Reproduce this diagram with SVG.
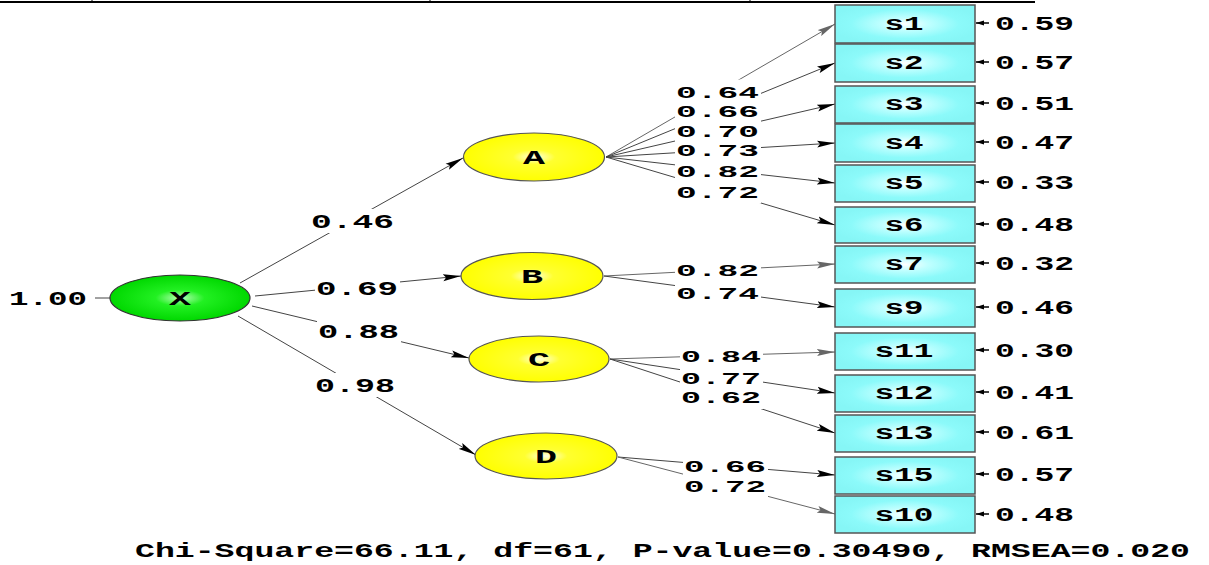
<svg xmlns="http://www.w3.org/2000/svg" width="1209" height="565" viewBox="0 0 1209 565">
<style>
text{font-family:"Liberation Mono","Courier New",monospace;font-weight:bold;font-size:20px;fill:#000}
text.f{font-size:17px}
.ln{stroke:#444;stroke-width:1;fill:none}
.lg{stroke:#666;stroke-width:1;fill:none}
.mask{fill:#fff;stroke:none}
.box{fill:url(#cy);stroke:#555;stroke-width:1.5}
.lat{fill:url(#yl);stroke:#555;stroke-width:1.2}
.err{stroke:#000;stroke-width:1.5}
</style>
<defs>
<radialGradient id="gr" cx="0.5" cy="0.5" r="0.5">
<stop offset="0" stop-color="#b8ffb8"/><stop offset="0.35" stop-color="#22f022"/><stop offset="1" stop-color="#00d800"/>
</radialGradient>
<radialGradient id="yl" cx="0.5" cy="0.5" r="0.5">
<stop offset="0" stop-color="#ffffe8"/><stop offset="0.3" stop-color="#ffff30"/><stop offset="1" stop-color="#ffff00"/>
</radialGradient>
<radialGradient id="cy" cx="0.5" cy="0.5" r="0.55">
<stop offset="0" stop-color="#ffffff"/><stop offset="0.3" stop-color="#c0ffff"/><stop offset="0.7" stop-color="#8cfafa"/><stop offset="1" stop-color="#86f6f6"/>
</radialGradient>
<marker id="ab" markerUnits="userSpaceOnUse" markerWidth="18" markerHeight="8" viewBox="0 -4 18 8" refX="18" refY="0" orient="auto">
<path d="M0,-3.5 L18,0 L0,3.5 L3,0 z" fill="#000"/>
</marker>
<marker id="ag" markerUnits="userSpaceOnUse" markerWidth="18" markerHeight="8" viewBox="0 -4 18 8" refX="18" refY="0" orient="auto">
<path d="M0,-3.5 L18,0 L0,3.5 L3,0 z" fill="#666"/>
</marker>
<marker id="as" markerUnits="userSpaceOnUse" markerWidth="8" markerHeight="6" viewBox="0 -3 8 6" refX="8" refY="0" orient="auto">
<path d="M0,-2.5 L8,0 L0,2.5 z" fill="#000"/>
</marker>
</defs>
<rect width="1209" height="565" fill="#fff"/>
<g id="topline">
<line x1="0" y1="2" x2="1035" y2="2" stroke="#000" stroke-width="1.8"/>
<line x1="92" y1="0" x2="92" y2="3" stroke="#000"/>
<line x1="430" y1="0" x2="430" y2="3" stroke="#000"/>
<line x1="750" y1="0" x2="750" y2="3" stroke="#000"/>
</g>
<g id="connectors">
<line class="ln" x1="95" y1="298" x2="110" y2="298"/>
<line class="ln" x1="240" y1="283" x2="463" y2="158" marker-end="url(#ab)"/>
<line class="ln" x1="255" y1="296" x2="461" y2="276" marker-end="url(#ab)"/>
<line class="ln" x1="252" y1="306" x2="469" y2="358" marker-end="url(#ab)"/>
<line class="ln" x1="238" y1="316" x2="476" y2="455" marker-end="url(#ab)"/>
<line class="lg" x1="606" y1="157" x2="835" y2="24" marker-end="url(#ag)"/>
<line class="ln" x1="606" y1="157" x2="835" y2="63" marker-end="url(#ab)"/>
<line class="ln" x1="606" y1="157" x2="835" y2="104" marker-end="url(#ab)"/>
<line class="ln" x1="606" y1="157" x2="835" y2="143" marker-end="url(#ab)"/>
<line class="ln" x1="606" y1="157" x2="835" y2="183" marker-end="url(#ab)"/>
<line class="ln" x1="606" y1="157" x2="835" y2="225" marker-end="url(#ab)"/>
<line class="lg" x1="604" y1="276" x2="835" y2="264" marker-end="url(#ag)"/>
<line class="ln" x1="604" y1="276" x2="835" y2="307" marker-end="url(#ab)"/>
<line class="lg" x1="610" y1="359" x2="835" y2="352" marker-end="url(#ag)"/>
<line class="ln" x1="610" y1="359" x2="835" y2="393" marker-end="url(#ab)"/>
<line class="ln" x1="610" y1="359" x2="835" y2="433" marker-end="url(#ab)"/>
<line class="ln" x1="618" y1="457" x2="835" y2="475" marker-end="url(#ab)"/>
<line class="lg" x1="618" y1="457" x2="835" y2="514" marker-end="url(#ag)"/>
<line class="err" x1="989" y1="23" x2="976" y2="23" marker-end="url(#as)"/>
<line class="err" x1="989" y1="62" x2="976" y2="62" marker-end="url(#as)"/>
<line class="err" x1="989" y1="103" x2="976" y2="103" marker-end="url(#as)"/>
<line class="err" x1="989" y1="142" x2="976" y2="142" marker-end="url(#as)"/>
<line class="err" x1="989" y1="182" x2="976" y2="182" marker-end="url(#as)"/>
<line class="err" x1="989" y1="224" x2="976" y2="224" marker-end="url(#as)"/>
<line class="err" x1="989" y1="263" x2="976" y2="263" marker-end="url(#as)"/>
<line class="err" x1="989" y1="307" x2="976" y2="307" marker-end="url(#as)"/>
<line class="err" x1="989" y1="350" x2="976" y2="350" marker-end="url(#as)"/>
<line class="err" x1="989" y1="392" x2="976" y2="392" marker-end="url(#as)"/>
<line class="err" x1="989" y1="432" x2="976" y2="432" marker-end="url(#as)"/>
<line class="err" x1="989" y1="474" x2="976" y2="474" marker-end="url(#as)"/>
<line class="err" x1="989" y1="514" x2="976" y2="514" marker-end="url(#as)"/>
</g>
<g id="labels">
<rect class="mask" x="310" y="209" width="85" height="24"/><text x="311" y="228" textLength="83" lengthAdjust="spacingAndGlyphs">0.46</text>
<rect class="mask" x="315" y="276" width="85" height="24"/><text x="316" y="295" textLength="82" lengthAdjust="spacingAndGlyphs">0.69</text>
<rect class="mask" x="317" y="319" width="84" height="24"/><text x="318" y="338" textLength="81" lengthAdjust="spacingAndGlyphs">0.88</text>
<rect class="mask" x="314" y="373" width="83" height="24"/><text x="315" y="392" textLength="80" lengthAdjust="spacingAndGlyphs">0.98</text>
<text x="9" y="305" textLength="78" lengthAdjust="spacingAndGlyphs">1.00</text>
<rect class="mask" x="675" y="79.5" width="86" height="24"/><text class="f" x="676" y="97.5" textLength="83" lengthAdjust="spacingAndGlyphs">0.64</text>
<rect class="mask" x="675" y="99" width="86" height="24"/><text class="f" x="676" y="117" textLength="83" lengthAdjust="spacingAndGlyphs">0.66</text>
<rect class="mask" x="675" y="118.5" width="86" height="24"/><text class="f" x="676" y="136.5" textLength="83" lengthAdjust="spacingAndGlyphs">0.70</text>
<rect class="mask" x="675" y="138" width="86" height="24"/><text class="f" x="676" y="156" textLength="83" lengthAdjust="spacingAndGlyphs">0.73</text>
<rect class="mask" x="675" y="158.5" width="86" height="24"/><text class="f" x="676" y="176.5" textLength="83" lengthAdjust="spacingAndGlyphs">0.82</text>
<rect class="mask" x="675" y="179.5" width="86" height="24"/><text class="f" x="676" y="197.5" textLength="83" lengthAdjust="spacingAndGlyphs">0.72</text>
<rect class="mask" x="675" y="258" width="86" height="24"/><text class="f" x="676" y="276" textLength="83" lengthAdjust="spacingAndGlyphs">0.82</text>
<rect class="mask" x="675" y="281" width="86" height="24"/><text class="f" x="676" y="299" textLength="83" lengthAdjust="spacingAndGlyphs">0.74</text>
<rect class="mask" x="680" y="343.5" width="83" height="24"/><text class="f" x="681" y="361.5" textLength="80" lengthAdjust="spacingAndGlyphs">0.84</text>
<rect class="mask" x="680" y="365.5" width="83" height="24"/><text class="f" x="681" y="383.5" textLength="80" lengthAdjust="spacingAndGlyphs">0.77</text>
<rect class="mask" x="680" y="385" width="83" height="24"/><text class="f" x="681" y="403" textLength="80" lengthAdjust="spacingAndGlyphs">0.62</text>
<rect class="mask" x="683" y="453.5" width="85" height="24"/><text class="f" x="684" y="471.5" textLength="82" lengthAdjust="spacingAndGlyphs">0.66</text>
<rect class="mask" x="683" y="474" width="85" height="24"/><text class="f" x="684" y="492" textLength="82" lengthAdjust="spacingAndGlyphs">0.72</text>
<text x="995" y="30" textLength="79" lengthAdjust="spacingAndGlyphs">0.59</text>
<text x="995" y="69" textLength="79" lengthAdjust="spacingAndGlyphs">0.57</text>
<text x="995" y="110" textLength="79" lengthAdjust="spacingAndGlyphs">0.51</text>
<text x="995" y="149" textLength="79" lengthAdjust="spacingAndGlyphs">0.47</text>
<text x="995" y="189" textLength="79" lengthAdjust="spacingAndGlyphs">0.33</text>
<text x="995" y="231" textLength="79" lengthAdjust="spacingAndGlyphs">0.48</text>
<text x="995" y="270" textLength="79" lengthAdjust="spacingAndGlyphs">0.32</text>
<text x="995" y="314" textLength="79" lengthAdjust="spacingAndGlyphs">0.46</text>
<text x="995" y="357" textLength="79" lengthAdjust="spacingAndGlyphs">0.30</text>
<text x="995" y="399" textLength="79" lengthAdjust="spacingAndGlyphs">0.41</text>
<text x="995" y="439" textLength="79" lengthAdjust="spacingAndGlyphs">0.61</text>
<text x="995" y="481" textLength="79" lengthAdjust="spacingAndGlyphs">0.57</text>
<text x="995" y="521" textLength="79" lengthAdjust="spacingAndGlyphs">0.48</text>
</g>
<g id="node-X"><ellipse cx="180" cy="298" rx="70" ry="23" fill="url(#gr)" stroke="#333" stroke-width="1.2"/><text x="180" y="305" text-anchor="middle" textLength="22" lengthAdjust="spacingAndGlyphs">X</text></g>
<g id="node-A"><ellipse class="lat" cx="534" cy="157" rx="70.5" ry="24"/><text x="534" y="164" text-anchor="middle" textLength="22" lengthAdjust="spacingAndGlyphs">A</text></g>
<g id="node-B"><ellipse class="lat" cx="532" cy="276" rx="71" ry="23.5"/><text x="532" y="283" text-anchor="middle" textLength="22" lengthAdjust="spacingAndGlyphs">B</text></g>
<g id="node-C"><ellipse class="lat" cx="539" cy="359" rx="70" ry="23"/><text x="539" y="366" text-anchor="middle" textLength="22" lengthAdjust="spacingAndGlyphs">C</text></g>
<g id="node-D"><ellipse class="lat" cx="546" cy="456" rx="71" ry="23"/><text x="546" y="463" text-anchor="middle" textLength="22" lengthAdjust="spacingAndGlyphs">D</text></g>
<g id="node-s1"><rect class="box" x="835" y="5" width="140" height="38"/><text x="904" y="30" text-anchor="middle" textLength="39" lengthAdjust="spacingAndGlyphs">s1</text></g>
<g id="node-s2"><rect class="box" x="835" y="44" width="140" height="38"/><text x="904" y="69" text-anchor="middle" textLength="39" lengthAdjust="spacingAndGlyphs">s2</text></g>
<g id="node-s3"><rect class="box" x="835" y="86" width="140" height="37"/><text x="904" y="110" text-anchor="middle" textLength="39" lengthAdjust="spacingAndGlyphs">s3</text></g>
<g id="node-s4"><rect class="box" x="835" y="124" width="140" height="38"/><text x="904" y="149" text-anchor="middle" textLength="39" lengthAdjust="spacingAndGlyphs">s4</text></g>
<g id="node-s5"><rect class="box" x="835" y="165" width="140" height="37"/><text x="904" y="189" text-anchor="middle" textLength="39" lengthAdjust="spacingAndGlyphs">s5</text></g>
<g id="node-s6"><rect class="box" x="835" y="207" width="140" height="36"/><text x="904" y="231" text-anchor="middle" textLength="39" lengthAdjust="spacingAndGlyphs">s6</text></g>
<g id="node-s7"><rect class="box" x="835" y="246" width="140" height="37"/><text x="904" y="270" text-anchor="middle" textLength="39" lengthAdjust="spacingAndGlyphs">s7</text></g>
<g id="node-s9"><rect class="box" x="835" y="289" width="140" height="38"/><text x="904" y="314" text-anchor="middle" textLength="39" lengthAdjust="spacingAndGlyphs">s9</text></g>
<g id="node-s11"><rect class="box" x="835" y="333" width="140" height="37"/><text x="904" y="357" text-anchor="middle" textLength="59" lengthAdjust="spacingAndGlyphs">s11</text></g>
<g id="node-s12"><rect class="box" x="835" y="375" width="140" height="37"/><text x="904" y="399" text-anchor="middle" textLength="59" lengthAdjust="spacingAndGlyphs">s12</text></g>
<g id="node-s13"><rect class="box" x="835" y="415" width="140" height="37"/><text x="904" y="439" text-anchor="middle" textLength="59" lengthAdjust="spacingAndGlyphs">s13</text></g>
<g id="node-s15"><rect class="box" x="835" y="457" width="140" height="37"/><text x="904" y="481" text-anchor="middle" textLength="59" lengthAdjust="spacingAndGlyphs">s15</text></g>
<g id="node-s10"><rect class="box" x="835" y="496" width="140" height="37"/><text x="904" y="521" text-anchor="middle" textLength="59" lengthAdjust="spacingAndGlyphs">s10</text></g>
<text id="fit" x="135" y="557" textLength="1055" lengthAdjust="spacingAndGlyphs">Chi-Square=66.11, df=61, P-value=0.30490, RMSEA=0.020</text>
</svg>
